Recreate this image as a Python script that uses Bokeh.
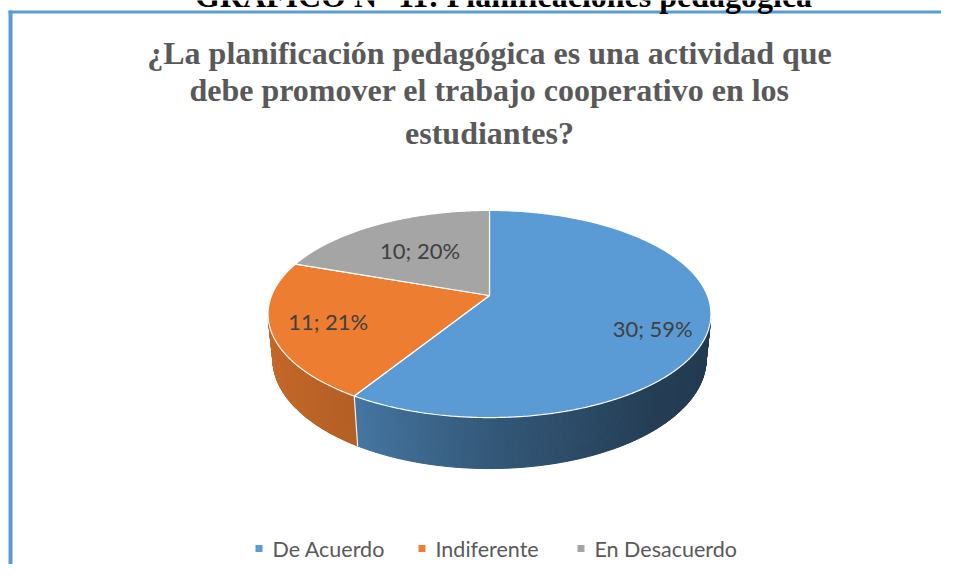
import numpy as np
from bokeh.plotting import figure
from bokeh.models import Range1d
from bokeh.core.properties import value
from bokeh.embed import file_html
from bokeh.resources import INLINE

# ---------------- data ----------------
categories = ["De Acuerdo", "Indiferente", "En Desacuerdo"]
counts = [30, 11, 10]
percents = [59, 21, 20]
header_text = "GRÁFICO N° 11: Planificaciones pedagógica"
title_lines = ["¿La planificación pedagógica es una actividad que",
               "debe promover el trabajo cooperativo en los",
               "estudiantes?"]

# ---------------- style ----------------
colors = ["#5B9BD5", "#ED7D31", "#A5A5A5"]
border_color = "#5B9BD5"

W, H = 941, 564
p = figure(width=W, height=H,
           x_range=Range1d(0, W), y_range=Range1d(H, 0),
           output_backend="svg", toolbar_location=None,
           x_axis_location=None, y_axis_location=None, min_border=0)
p.grid.visible = False
p.outline_line_color = None
p.background_fill_color = "#FFFFFF"
p.border_fill_color = "#FFFFFF"

# blue frame (top + left)
p.line([8, W], [11.5, 11.5], line_color=border_color, line_width=3)
p.line([10, 10], [10, H], line_color=border_color, line_width=4)

# cut-off document header above the frame
p.text(x=[503], y=[-5], text=[header_text], text_align="center", text_baseline="alphabetic",
       text_font=value("Liberation Serif"), text_font_style="bold",
       text_font_size="32px", text_color="#000000")

# ---------------- title ----------------
title_base = [52, 89, 132]
p.text(x=[489] * 3, y=title_base, text=title_lines,
       text_align="center", text_baseline="alphabetic",
       text_font=value("Liberation Serif"), text_font_style="bold",
       text_font_size="32px", text_color="#595959")

# ---------------- 3D pie (perspective projection) ----------------
cx, cy = 489.0, 295.0
F, D = 1083.0, 4.97
phi = np.radians(27.4)
thick = 0.236
cphi, sphi = np.cos(phi), np.sin(phi)


def proj(u, v, w):
    z = D + v * cphi - w * sphi
    return cx + F * u / z, cy - F * (v * sphi + w * cphi) / z


def scale_hex(hx, f):
    r, g, b = int(hx[1:3], 16), int(hx[3:5], 16), int(hx[5:7], 16)
    return "#%02x%02x%02x" % (int(r * f), int(g * f), int(b * f))


vals = np.array(counts, dtype=float)
frac = vals / vals.sum()
ends = np.cumsum(frac) * 2 * np.pi
starts = ends - frac * 2 * np.pi

thr = -1.0 / (D * cphi)   # front-facing side wall condition: cos(alpha) < thr

# side walls
wx, wy, wc = [], [], []
for i in range(len(counts)):
    n = max(int(np.degrees(ends[i] - starts[i]) * 2), 2)
    a = np.linspace(starts[i], ends[i], n + 1)
    for j in range(n):
        am = 0.5 * (a[j] + a[j + 1])
        if np.cos(am) >= thr:
            continue
        u0, v0 = np.sin(a[j]), np.cos(a[j])
        u1, v1 = np.sin(a[j + 1]), np.cos(a[j + 1])
        t0 = proj(u0, v0, 0.0)
        t1 = proj(u1, v1, 0.0)
        b1 = proj(u1, v1, -thick)
        b0 = proj(u0, v0, -thick)
        wx.append([t0[0], t1[0], b1[0], b0[0]])
        wy.append([t0[1], t1[1], b1[1], b0[1]])
        f = np.interp(np.sin(am), [-1, -0.53, 0, 0.65, 1], [0.84, 0.76, 0.57, 0.40, 0.38])
        wc.append(scale_hex(colors[i], f))
p.patches(wx, wy, fill_color=wc, line_color=wc, line_width=1)

# boundary lines on visible side wall
for i in range(len(counts)):
    a = ends[i]
    if np.cos(a) < thr:
        t = proj(np.sin(a), np.cos(a), 0.0)
        b = proj(np.sin(a), np.cos(a), -thick)
        p.line([t[0], b[0]], [t[1], b[1]], line_color="#F2F2F2", line_width=1.2)

# top faces
tx, ty = [], []
c0 = proj(0.0, 0.0, 0.0)
for i in range(len(counts)):
    n = max(int(np.degrees(ends[i] - starts[i]) * 2), 2)
    a = np.linspace(starts[i], ends[i], n + 1)
    px, py = proj(np.sin(a), np.cos(a), 0.0)
    tx.append([c0[0]] + list(px))
    ty.append([c0[1]] + list(py))
p.patches(tx, ty, fill_color=colors, line_color="#FFFFFF", line_width=1.2)

# data labels
label_rho = [0.75, 0.75, 0.6]
label_dy = [12, 0, 0]
lx, ly, lt = [], [], []
for i in range(len(counts)):
    am = 0.5 * (starts[i] + ends[i])
    x, y = proj(label_rho[i] * np.sin(am), label_rho[i] * np.cos(am), 0.0)
    lx.append(x)
    ly.append(y + label_dy[i])
    lt.append("%d; %d%%" % (counts[i], percents[i]))
p.text(x=lx, y=ly, text=lt, text_align="center", text_baseline="middle",
       text_font=value("Lato"), text_font_size="22px", text_color="#404040")

# ---------------- legend ----------------
legend_x = [255, 418, 577]
legend_y = 548
p.rect(x=[x + 3.5 for x in legend_x], y=[legend_y] * 3, width=7, height=7,
       fill_color=colors, line_color=None)
p.text(x=[x + 17 for x in legend_x], y=[legend_y] * 3, text=categories,
       text_align="left", text_baseline="middle",
       text_font=value("Lato"), text_font_size="21.5px", text_color="#595959")

open("out.html", "w").write(file_html(p, INLINE))
